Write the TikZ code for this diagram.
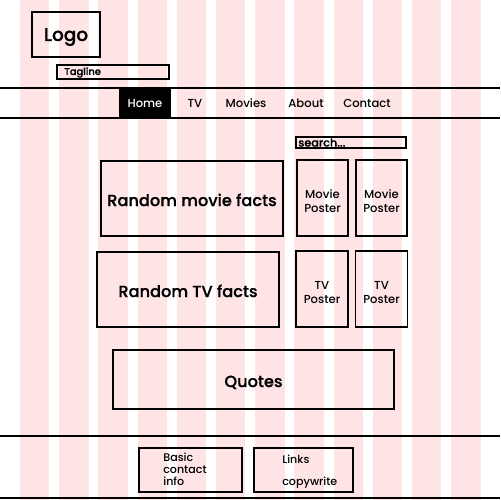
\documentclass[tikz,border=0pt]{standalone}
\usepackage{fontspec}
\setmainfont{Poppins}[BoldFont={Poppins Medium}]
\newfontfamily\strongfont{Poppins Medium}[FakeBold=0.8]
\usepackage{xcolor}
\definecolor{gridpink}{RGB}{255,228,230}

\begin{document}
\begin{tikzpicture}[x=0.02cm,y=-0.02cm,
  col/.style={fill=gridpink, draw=none},
  bar/.style={line width=1.1pt},
  box/.style={draw, line width=1.1pt, inner sep=0pt},
  thinbox/.style={draw, line width=0.9pt, inner sep=0pt},
  navtext/.style={font=\fontsize{6.6}{8}\selectfont\bfseries, text height=4.6pt, text depth=0pt},
  bigtext/.style={font=\fontsize{9.2}{11}\selectfont\strongfont, text height=8.6pt, text depth=0pt},
  postertext/.style={align=center, font=\fontsize{6.6}{7.6}\selectfont\bfseries, text height=16pt, text depth=0pt},
  foottext/.style={align=left, inner sep=0pt, font=\fontsize{6.3}{6.9}\selectfont\bfseries}]
\useasboundingbox (0,0) rectangle (500,500);

% grid columns
\fill[col] (20,0) rectangle +(29.3,500);
\fill[col] (59.2,0) rectangle +(29.3,500);
\fill[col] (98.4,0) rectangle +(29.3,500);
\fill[col] (137.6,0) rectangle +(29.3,500);
\fill[col] (176.8,0) rectangle +(29.3,500);
\fill[col] (216,0) rectangle +(29.3,500);
\fill[col] (255.2,0) rectangle +(29.3,500);
\fill[col] (294.4,0) rectangle +(29.3,500);
\fill[col] (333.6,0) rectangle +(29.3,500);
\fill[col] (372.8,0) rectangle +(29.3,500);
\fill[col] (412,0) rectangle +(29.3,500);
\fill[col] (451.2,0) rectangle +(29.3,500);

% header
\node[box, minimum width=1.36cm, minimum height=0.9cm, font=\fontsize{10.5}{12}\selectfont\strongfont, text height=7.4pt, text depth=0pt] (logo) at (66,34.5) {Logo};
\node[thinbox, minimum width=2.24cm, minimum height=0.28cm] (tagbox) at (113,72) {};
\node[anchor=west, inner sep=0pt, font=\fontsize{5.6}{6}\selectfont\strongfont] (tagline) at (64,72.5) {Tagline};

% navigation
\draw[bar] (0,88) -- (500,88);
\draw[bar] (0,118) -- (500,118);
\node[navtext, fill=black, text=white, minimum width=1.04cm, minimum height=0.6cm] (home) at (145,103) {Home};
\node[navtext] (tv) at (195,103) {TV};
\node[navtext] (movies) at (246,103) {Movies};
\node[navtext] (about) at (306,103) {About};
\node[navtext] (contact) at (367,103) {Contact};

% content
\node[thinbox, minimum width=2.2cm, minimum height=0.22cm] (searchbox) at (351,142.5) {};
\node[anchor=west, inner sep=0pt, font=\fontsize{6.4}{7}\selectfont\strongfont] (search) at (298,142.5) {search...};
\node[box, bigtext, minimum width=3.64cm, minimum height=1.5cm] (moviefacts) at (192,198.5) {Random movie facts};
\node[box, bigtext, minimum width=3.64cm, minimum height=1.5cm] (tvfacts) at (188,289.5) {Random TV facts};
\node[box, postertext, minimum width=1.02cm, minimum height=1.52cm] (movieA) at (322.5,198) {Movie\\Poster};
\node[box, postertext, minimum width=1.02cm, minimum height=1.52cm] (movieB) at (381.5,198) {Movie\\Poster};
\node[box, postertext, minimum width=1.04cm, minimum height=1.52cm] (tvA) at (322,289) {TV\\Poster};
\node[box, postertext, minimum width=1.04cm, minimum height=1.52cm] (tvB) at (381.5,289) {TV\\Poster};
\node[box, bigtext, minimum width=5.62cm, minimum height=1.18cm] (quotes) at (253.5,379.5) {Quotes};

% footer
\draw[bar] (0,436) -- (500,436);
\draw[bar] (0,498) -- (500,498);
\node[box, minimum width=2.06cm, minimum height=0.88cm] (infobox) at (190.5,470) {};
\node[foottext, anchor=west] (info) at (163,469) {Basic\\contact\\info};
\node[box, minimum width=1.98cm, minimum height=0.88cm] (linkbox) at (303.5,470) {};
\node[foottext, anchor=west] (links) at (282,459) {Links};
\node[foottext, anchor=west] (copy) at (282,483) {copywrite};
\end{tikzpicture}
\end{document}
